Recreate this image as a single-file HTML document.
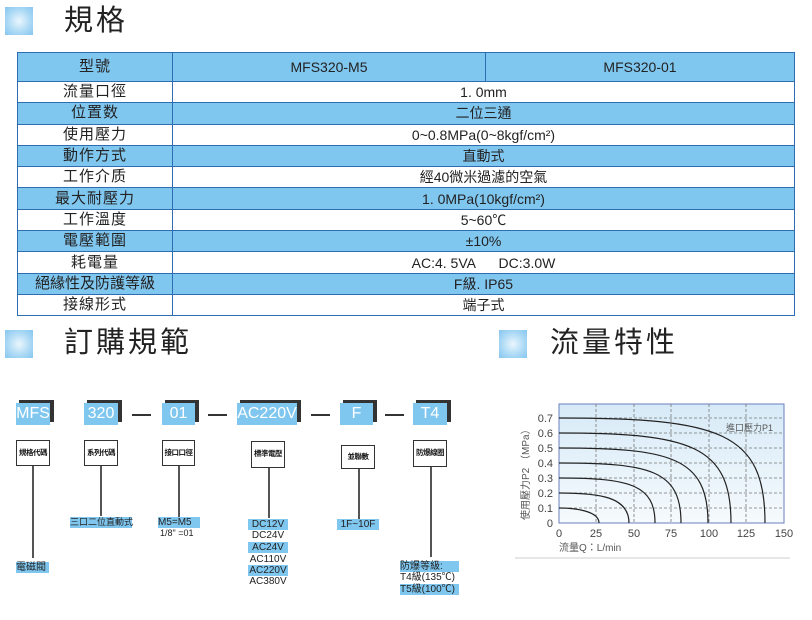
<!DOCTYPE html>
<html><head><meta charset="utf-8"><style>
*{margin:0;padding:0;box-sizing:border-box}
body{width:812px;height:620px;background:#fff;position:relative;overflow:hidden;font-family:"Liberation Sans","Noto Sans CJK TC",sans-serif;color:#222}
.a{position:absolute}
.ic{position:absolute;width:28px;height:28px;background:radial-gradient(circle,#eaf6fd 0%,#a9d8f5 60%,#86c6ee 100%)}
.ttl{position:absolute;font-size:29px;letter-spacing:3px;line-height:34px;color:#222}
table{position:absolute;left:17px;top:52px;width:778px;border-collapse:collapse;font-size:14px}
td{border:1.5px solid #2f6db3;text-align:center;height:21.3px;padding:0;line-height:18px}
tr.b td{background:#80c7f0}
td.l{width:155px;letter-spacing:1px;font-size:15px}
.code{position:absolute;background:#80c7f0;color:#fff;font-size:16px;line-height:22px;text-align:center;height:22px;white-space:nowrap}
.sh{position:absolute;background:#333;height:22px}
.dash{position:absolute;height:2px;background:#333;top:414px;width:19px}
.lb{position:absolute;border:1.5px solid #333;background:#fff;font-size:7.5px;font-weight:bold;text-align:center;color:#111;letter-spacing:-0.5px;white-space:nowrap;overflow:hidden}
.vl{position:absolute;width:1.5px;background:#555}
.t{position:absolute;font-size:10px;line-height:11px;white-space:nowrap}
.hb{background:#80c7f0}
</style></head><body>
<div class="ic" style="left:5px;top:7px"></div>
<div class="ttl" style="left:64px;top:4px">規格</div>
<table>
<tr class="b"><td class="l" style="height:29px">型號</td><td style="width:313px">MFS320-M5</td><td>MFS320-01</td></tr>
<tr><td class="l">流量口徑</td><td colspan="2">1. 0mm</td></tr>
<tr class="b"><td class="l">位置数</td><td colspan="2">二位三通</td></tr>
<tr><td class="l">使用壓力</td><td colspan="2">0~0.8MPa(0~8kgf/cm²)</td></tr>
<tr class="b"><td class="l">動作方式</td><td colspan="2">直動式</td></tr>
<tr><td class="l">工作介质</td><td colspan="2">經40微米過濾的空氣</td></tr>
<tr class="b"><td class="l">最大耐壓力</td><td colspan="2">1. 0MPa(10kgf/cm²)</td></tr>
<tr><td class="l">工作溫度</td><td colspan="2">5~60℃</td></tr>
<tr class="b"><td class="l">電壓範圍</td><td colspan="2">±10%</td></tr>
<tr><td class="l">耗電量</td><td colspan="2">AC:4. 5VA &nbsp;&nbsp;&nbsp;&nbsp; DC:3.0W</td></tr>
<tr class="b"><td class="l" style="letter-spacing:0">絕緣性及防護等級</td><td colspan="2">F級. IP65</td></tr>
<tr><td class="l">接線形式</td><td colspan="2">端子式</td></tr>
</table>
<div class="ic" style="left:5px;top:330px"></div>
<div class="ttl" style="left:64px;top:326px">訂購規範</div>
<div class="ic" style="left:499px;top:330px"></div>
<div class="ttl" style="left:550px;top:326px">流量特性</div>

<div class="sh" style="left:19px;top:400px;width:35px"></div><div class="code" style="left:16px;top:403px;width:34px">MFS</div>
<div class="sh" style="left:87px;top:400px;width:35px"></div><div class="code" style="left:84px;top:403px;width:34px">320</div>
<div class="sh" style="left:165px;top:400px;width:34px"></div><div class="code" style="left:162px;top:403px;width:33px">01</div>
<div class="sh" style="left:240px;top:400px;width:61px"></div><div class="code" style="left:237px;top:403px;width:60px">AC220V</div>
<div class="sh" style="left:343px;top:400px;width:34px"></div><div class="code" style="left:340px;top:403px;width:33px">F</div>
<div class="sh" style="left:416px;top:400px;width:35px"></div><div class="code" style="left:413px;top:403px;width:34px">T4</div>
<div class="dash" style="left:132px"></div><div class="dash" style="left:208px"></div><div class="dash" style="left:311px"></div><div class="dash" style="left:385px"></div>

<div class="lb" style="left:16px;top:440px;width:34px;height:26px;line-height:23px">規格代碼</div>
<div class="lb" style="left:84px;top:440px;width:34px;height:26px;line-height:23px">系列代碼</div>
<div class="lb" style="left:162px;top:440px;width:33px;height:26px;line-height:23px">接口口徑</div>
<div class="lb" style="left:251px;top:441px;width:34px;height:27px;line-height:24px">標準電壓</div>
<div class="lb" style="left:341px;top:445px;width:34px;height:24px;line-height:21px">並聯數</div>
<div class="lb" style="left:413px;top:440px;width:34px;height:27px;line-height:24px">防爆線圈</div>
<div class="vl" style="left:32px;top:466px;height:92px"></div>
<div class="vl" style="left:100px;top:466px;height:50px"></div>
<div class="vl" style="left:178px;top:466px;height:51px"></div>
<div class="vl" style="left:268px;top:468px;height:50px"></div>
<div class="vl" style="left:358px;top:469px;height:51px"></div>
<div class="vl" style="left:430px;top:467px;height:90px"></div>

<div class="t hb" style="left:16px;top:562px;width:33px">電磁閥</div>
<div class="t hb" style="left:70px;top:517px;width:62px;font-size:9px">三口二位直動式</div>
<div class="t hb" style="left:158px;top:517px;width:42px">M5=M5</div>
<div class="t" style="left:160px;top:528px;font-size:9px">1/8" =01</div>
<div class="t hb" style="left:248px;top:519px;width:40px;text-align:center">DC12V</div>
<div class="t" style="left:248px;top:530px;width:40px;text-align:center">DC24V</div>
<div class="t hb" style="left:248px;top:542px;width:40px;text-align:center">AC24V</div>
<div class="t" style="left:248px;top:554px;width:40px;text-align:center">AC110V</div>
<div class="t hb" style="left:248px;top:565px;width:40px;text-align:center">AC220V</div>
<div class="t" style="left:248px;top:576px;width:40px;text-align:center">AC380V</div>
<div class="t hb" style="left:337px;top:519px;width:42px;text-align:center">1F~10F</div>
<div class="t hb" style="left:400px;top:561px;width:59px">防爆等級:</div>
<div class="t" style="left:400px;top:572px;width:59px">T4級(135℃)</div>
<div class="t hb" style="left:400px;top:584px;width:59px">T5級(100℃)</div>

<svg class="a" style="left:0;top:0" width="812" height="620">
<defs><linearGradient id="g" x1="0" y1="0" x2="0" y2="1"><stop offset="0" stop-color="#d6eaf7"/><stop offset="1" stop-color="#f6fafd"/></linearGradient></defs>
<rect x="559" y="404" width="225" height="119" fill="url(#g)" stroke="#6a7fc0" stroke-width="1"/>
<g stroke="#777" stroke-dasharray="3,2" stroke-width="0.8">
<line x1="596" y1="404" x2="596" y2="523"/><line x1="634" y1="404" x2="634" y2="523"/><line x1="671" y1="404" x2="671" y2="523"/><line x1="709" y1="404" x2="709" y2="523"/><line x1="746" y1="404" x2="746" y2="523"/>
<line x1="559" y1="418" x2="784" y2="418"/><line x1="559" y1="433" x2="784" y2="433"/><line x1="559" y1="448" x2="784" y2="448"/><line x1="559" y1="463" x2="784" y2="463"/><line x1="559" y1="478" x2="784" y2="478"/><line x1="559" y1="493" x2="784" y2="493"/><line x1="559" y1="508" x2="784" y2="508"/>
</g>
<g fill="none" stroke="#222" stroke-width="1.2">
<path d="M559 508 C575 508 599 511 599 523"/>
<path d="M559 493 C600 493 629 497 629 523"/>
<path d="M559 478 C630 478 655 485 655 523"/>
<path d="M559 463 C650 463 681 470 681 523"/>
<path d="M559 448 C670 448 708 457 708 523"/>
<path d="M559 433 C690 433 731 445 731 523"/>
<path d="M559 418 C720 418 765 432 765 523"/>
</g>
<g font-size="11" fill="#444" text-anchor="end">
<text x="553" y="422">0.7</text><text x="553" y="437">0.6</text><text x="553" y="452">0.5</text><text x="553" y="467">0.4</text><text x="553" y="482">0.3</text><text x="553" y="497">0.2</text><text x="553" y="512">0.1</text><text x="553" y="527">0</text>
</g>
<g font-size="11" fill="#444" text-anchor="middle">
<text x="559" y="537">0</text><text x="596" y="537">25</text><text x="634" y="537">50</text><text x="671" y="537">75</text><text x="709" y="537">100</text><text x="746" y="537">125</text><text x="784" y="537">150</text>
</g>
<text x="726" y="431" font-size="9" fill="#555">進口壓力P1</text>
<text x="559" y="551" font-size="10" fill="#555">流量Q：L/min</text>
<text transform="translate(529,520) rotate(-90)" font-size="10" fill="#555">使用壓力P2 （MPa）</text>
<line x1="515" y1="558" x2="790" y2="558" stroke="#ccc" stroke-width="1"/>
</svg>
</body></html>
